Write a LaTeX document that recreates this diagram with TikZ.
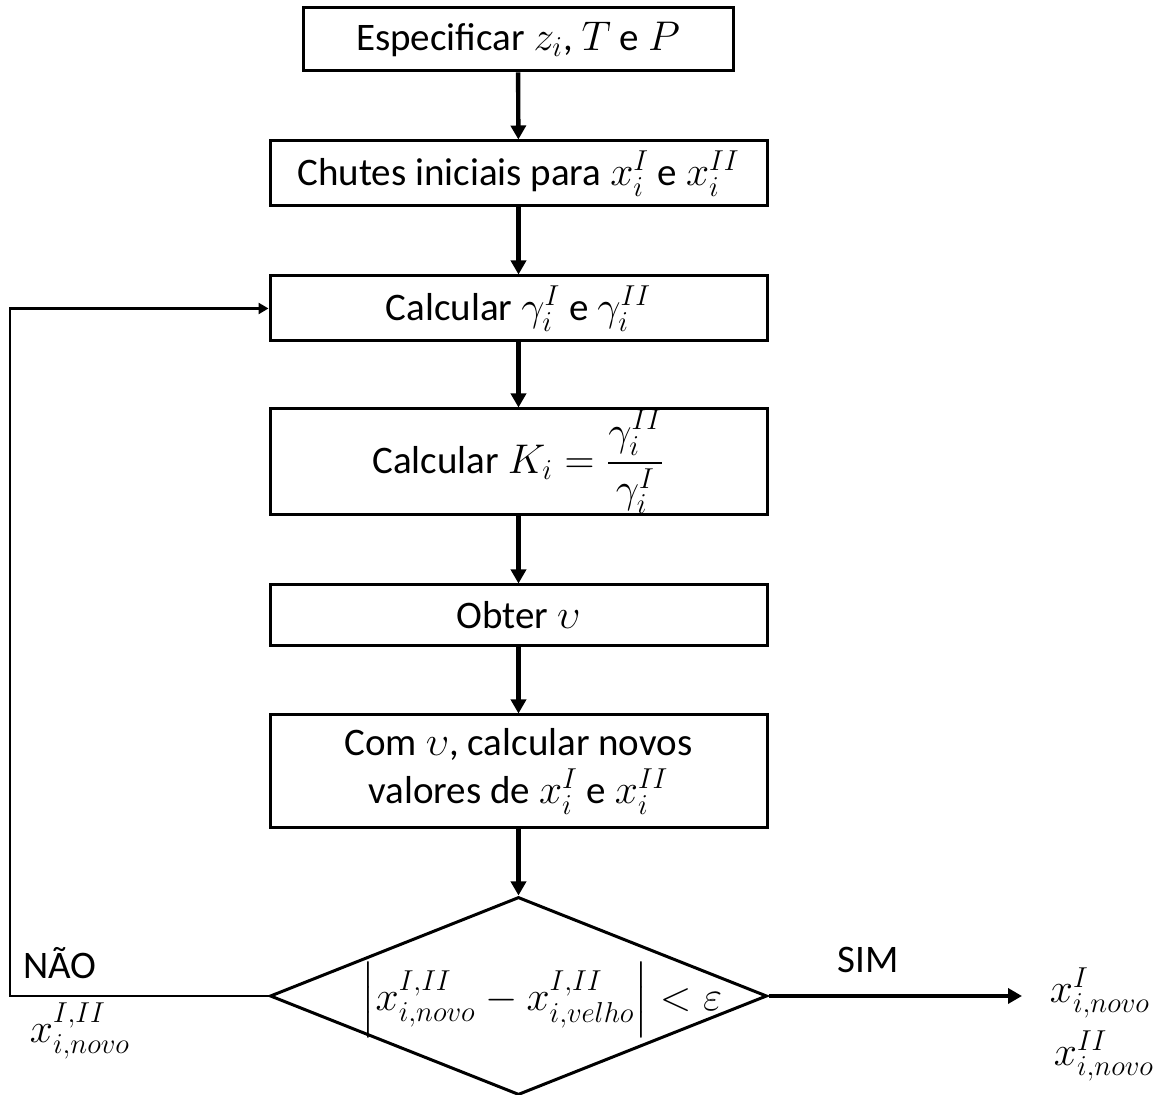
\documentclass[tikz,border=0pt]{standalone}
\usepackage{amsmath}
\usepackage{fontspec}
\setmainfont{Carlito}
\usetikzlibrary{shapes.geometric,arrows.meta}
\begin{document}
\begin{tikzpicture}[x=0.5pt,y=-0.5pt,
  every node/.style={font=\fontsize{19.5}{24}\selectfont},
  box/.style={draw,line width=1.5pt,inner sep=0pt,align=center},
  flow/.style={line width=2.2pt,-{Triangle[length=7pt,width=7.5pt]}},
  loop/.style={line width=1.3pt,-{Triangle[length=5pt,width=5.5pt]}},
  lbl/.style={inner sep=0pt}]
\useasboundingbox (0,0) rectangle (1164,1095);
\node[box,minimum width=215pt,minimum height=31.5pt] (b1) at (518,39.5) {Especificar $z_i$, $T$ e $P$};
\node[box,minimum width=248.5pt,minimum height=32.5pt] (b2) at (518.5,173.5) {Chutes iniciais para $x_i^I$ e $x_i^{II}$};
\node[box,minimum width=248.5pt,minimum height=32.5pt] (b3) at (518.5,308.5) {Calcular $\gamma_i^I$ e $\gamma_i^{II}$};
\node[box,minimum width=248.5pt,minimum height=53pt] (b4) at (518.5,462) {Calcular $K_i=\dfrac{\gamma_i^{II}}{\gamma_i^{I}}$};
\node[box,minimum width=248.5pt,minimum height=30.5pt] (b5) at (518.5,615.5) {Obter $\upsilon$};
\node[box,minimum width=248.5pt,minimum height=56.5pt] (b6) at (518.5,771.5) {Com $\upsilon$, calcular novos\\valores de $x_i^I$ e $x_i^{II}$};
\node[draw,diamond,line width=1.5pt,inner sep=0pt,minimum width=248.5pt,minimum height=99pt] (dec) at (518.5,996) {};
\node[lbl,font=\fontsize{21}{25}\selectfont] (dtxt) at (542,1000) {$\left|x_{i,novo}^{I,II}-x_{i,velho}^{I,II}\right|<\varepsilon$};
\coordinate (lp) at (10,996);
\coordinate (out) at (1022,996);
\draw[flow] (b1) -- (b2);
\draw[flow] (b2) -- (b3);
\draw[flow] (b3) -- (b4);
\draw[flow] (b4) -- (b5);
\draw[flow] (b5) -- (b6);
\draw[flow] (b6) -- (dec);
\draw[loop] (dec.west) -- (lp) |- (b3.west);
\draw[flow] (dec.east) -- (out);
\node[lbl] (nao) at (60,963) {NÃO};
\node[lbl] (xn) at (80,1031) {$x_{i,novo}^{I,II}$};
\node[lbl] (sim) at (868,960) {SIM};
\node[lbl] (o1) at (1100,993) {$x_{i,novo}^{I}$};
\node[lbl] (o2) at (1104,1056) {$x_{i,novo}^{II}$};
\end{tikzpicture}
\end{document}
